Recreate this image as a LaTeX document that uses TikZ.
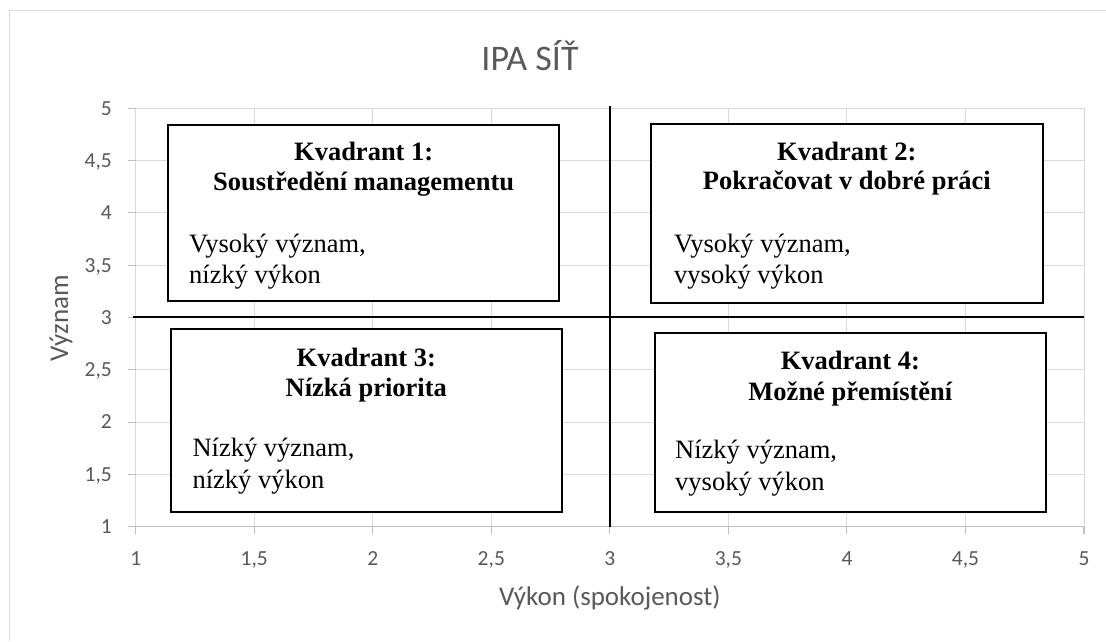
\documentclass[tikz,border=0pt]{standalone}
\usepackage{fontspec}
\setmainfont{Liberation Serif}
\newfontfamily\carlito{Carlito}
\definecolor{txtgray}{HTML}{595959}
\definecolor{gridgray}{HTML}{D9D9D9}
\definecolor{axisgray}{HTML}{BFBFBF}
\tikzset{
  gridline/.style={draw=gridgray, line width=1pt},
  axisline/.style={draw=axisgray, line width=1.1pt},
  thickline/.style={draw=black, line width=1.8pt},
  qbox/.style={draw=black, line width=1.8pt, fill=white, rectangle, inner sep=0pt, outer sep=0pt},
  ticklab/.style={text=txtgray, font=\carlito\fontsize{21.5}{24}\selectfont, inner sep=0pt},
  axtitle/.style={text=txtgray, font=\carlito\fontsize{27}{30}\selectfont, inner sep=0pt},
  charttitle/.style={text=txtgray, font=\carlito\fontsize{36}{40}\selectfont, inner sep=0pt},
  head/.style={font=\bfseries\fontsize{26.5}{31}\selectfont, inner sep=0pt, anchor=base},
  body/.style={font=\fontsize{26.5}{31}\selectfont, inner sep=0pt, anchor=base west},
}
\begin{document}
\begin{tikzpicture}[x=1pt, y=-1pt]
\useasboundingbox (0,0) rectangle (1106,641);
% outer chart border
\draw[gridline] (9,641) -- (9,10) -- (1106,10);
% title
\node[charttitle, anchor=base] (title) at (530,70) {IPA SÍŤ};
% gridlines
\foreach \i in {0,...,8} {
  \draw[gridline] ({135.7+\i*118.54},108.3) -- ({135.7+\i*118.54},526.7);
  \draw[gridline] (135.7,{526.7-\i*52.3}) -- (1084,{526.7-\i*52.3});
}
% axis and ticks
\draw[axisline] (135.7,526.7) -- (1084,526.7);
\foreach \i in {0,...,8} {
  \draw[axisline] ({135.7+\i*118.54},526.7) -- ({135.7+\i*118.54},533.5);
  \draw[axisline] (128.3,{526.7-\i*52.3}) -- (135.7,{526.7-\i*52.3});
}
% tick labels
\foreach \i/\l in {0/1,1/{1,5},2/2,3/{2,5},4/3,5/{3,5},6/4,7/{4,5},8/5} {
  \node[ticklab, anchor=base] (xl\i) at ({135.7+\i*118.54},565) {\l};
  \node[ticklab, anchor=base east] (yl\i) at (112,{526.7-\i*52.3+6.8}) {\l};
}
% axis titles
\node[axtitle, anchor=base] (xt) at (609.9,605) {Výkon (spokojenost)};
\node[axtitle, rotate=90, anchor=base] (yt) at (68,318) {Význam};
% quadrant dividers
\coordinate (vtop) at (610,106);
\coordinate (vbot) at (610,526.7);
\coordinate (hl) at (133.3,316.7);
\coordinate (hr) at (1084,316.7);
\draw[thickline] (vtop) -- (vbot);
\draw[thickline] (hl) -- (hr);
% boxes
\node[qbox, minimum width=390.7pt, minimum height=175.7pt] (b1) at (363.65,212.85) {};
\node[qbox, minimum width=391.7pt, minimum height=179pt] (b2) at (846.85,213.8) {};
\node[qbox, minimum width=390.7pt, minimum height=183pt] (b3) at (366.35,420.8) {};
\node[qbox, minimum width=391.3pt, minimum height=179pt] (b4) at (850.35,422.2) {};
% box 1
\node[head] (h1a) at (363.7,160) {Kvadrant 1:};
\node[head] (h1b) at (363.7,190) {Soustředění managementu};
\node[body] (t1a) at (189,252) {Vysoký význam,};
\node[body] (t1b) at (189,283) {nízký výkon};
% box 2
\node[head] (h2a) at (846.8,160) {Kvadrant 2:};
\node[head] (h2b) at (846.8,189.5) {Pokračovat v dobré práci};
\node[body] (t2a) at (674,252.7) {Vysoký význam,};
\node[body] (t2b) at (674,283) {vysoký výkon};
% box 3
\node[head] (h3a) at (366.3,366.7) {Kvadrant 3:};
\node[head] (h3b) at (366.3,396.5) {Nízká priorita};
\node[body] (t3a) at (192.3,456.7) {Nízký význam,};
\node[body] (t3b) at (192.3,488) {nízký výkon};
% box 4
\node[head] (h4a) at (850.4,369) {Kvadrant 4:};
\node[head] (h4b) at (850.4,400) {Možné přemístění};
\node[body] (t4a) at (675,458.3) {Nízký význam,};
\node[body] (t4b) at (675,490) {vysoký výkon};
\end{tikzpicture}
\end{document}
